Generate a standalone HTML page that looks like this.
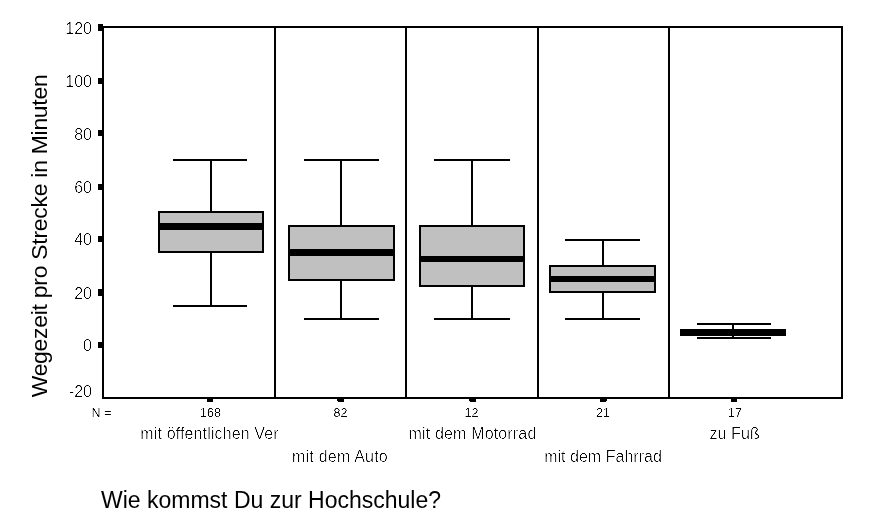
<!DOCTYPE html>
<html lang="de">
<head>
<meta charset="utf-8">
<title>Boxplot</title>
<style>
html,body{margin:0;padding:0;background:#fff;}
body{width:869px;height:522px;overflow:hidden;}
svg{display:block;font-family:"Liberation Sans",sans-serif;fill:#000;}
.ln{stroke:#000;stroke-width:2;fill:none;shape-rendering:crispEdges;}
.bx{fill:#c0c0c0;stroke:#000;stroke-width:2;shape-rendering:crispEdges;}
.bk{fill:#000;shape-rendering:crispEdges;}
.t16{font-size:16px;}
.t11{font-size:12.5px;}
.t23{font-size:23px;}
.thin{stroke:#fff;stroke-width:0.24px;paint-order:fill stroke;}
.thin2{stroke:#fff;stroke-width:0.08px;paint-order:fill stroke;}
</style>
</head>
<body>
<svg width="869" height="522" viewBox="0 0 869 522">
<rect x="0" y="0" width="869" height="522" fill="#fff"/>
<defs>
<filter id="al" x="-5%" y="-20%" width="110%" height="140%" color-interpolation-filters="sRGB">
<feFlood flood-color="#fff" result="w"/>
<feComposite in="SourceGraphic" in2="w" operator="over" result="o"/>
<feColorMatrix in="o" type="matrix" values="0 0 0 0 0  0 0 0 0 0  0 0 0 0 0  -1 0 0 0 1"/>
<feComponentTransfer><feFuncA type="table" tableValues="0 0 0.12 0.88 1 1"/></feComponentTransfer>
</filter>
</defs>

<!-- frame -->
<rect class="ln" x="103" y="27" width="739" height="371"/>
<!-- separators -->
<rect class="bk" x="274" y="26" width="2" height="373"/>
<rect class="bk" x="405" y="26" width="2" height="373"/>
<rect class="bk" x="537" y="26" width="2" height="373"/>
<rect class="bk" x="668" y="26" width="2" height="373"/>

<!-- y ticks -->
<rect class="bk" x="98" y="24" width="5" height="7"/>
<rect class="bk" x="98" y="78" width="5" height="6"/>
<rect class="bk" x="98" y="130" width="5" height="6"/>
<rect class="bk" x="98" y="184" width="5" height="6"/>
<rect class="bk" x="98" y="236" width="5" height="6"/>
<rect class="bk" x="98" y="289" width="5" height="7"/>
<rect class="bk" x="98" y="342" width="5" height="6"/>

<!-- x ticks -->
<rect class="bk" x="207" y="398" width="6" height="4"/>
<rect class="bk" x="337" y="398" width="7" height="3"/><rect class="bk" x="338" y="401" width="6" height="1"/>
<rect class="bk" x="469" y="398" width="7" height="3"/><rect class="bk" x="470" y="401" width="6" height="1"/>
<rect class="bk" x="600" y="398" width="7" height="3"/><rect class="bk" x="600" y="401" width="6" height="1"/>
<rect class="bk" x="731" y="398" width="6" height="4"/>

<!-- box 1 -->
<rect class="bk" x="210" y="159" width="2" height="148"/>
<rect class="bk" x="173" y="159" width="74" height="2"/>
<rect class="bk" x="173" y="305" width="74" height="2"/>
<rect class="bx" x="159" y="212" width="104" height="40"/>
<rect class="bk" x="158" y="223" width="106" height="7"/>

<!-- box 2 -->
<rect class="bk" x="340" y="159" width="2" height="161"/>
<rect class="bk" x="304" y="159" width="75" height="2"/>
<rect class="bk" x="304" y="318" width="75" height="2"/>
<rect class="bx" x="289" y="226" width="105" height="54"/>
<rect class="bk" x="288" y="249" width="107" height="7"/>

<!-- box 3 -->
<rect class="bk" x="471" y="159" width="2" height="161"/>
<rect class="bk" x="434" y="159" width="76" height="2"/>
<rect class="bk" x="434" y="318" width="76" height="2"/>
<rect class="bx" x="420" y="226" width="104" height="60"/>
<rect class="bk" x="419" y="256" width="106" height="6"/>

<!-- box 4 -->
<rect class="bk" x="602" y="239" width="2" height="81"/>
<rect class="bk" x="565" y="239" width="75" height="2"/>
<rect class="bk" x="565" y="318" width="75" height="2"/>
<rect class="bx" x="550" y="266" width="105" height="26"/>
<rect class="bk" x="549" y="276" width="107" height="6"/>

<!-- box 5 -->
<rect class="bk" x="732" y="323" width="2" height="16"/>
<rect class="bk" x="697" y="323" width="74" height="2"/>
<rect class="bk" x="697" y="337" width="74" height="2"/>
<rect class="bk" x="680" y="329" width="106" height="7"/>

<!-- y tick labels -->
<g class="t16 thin" text-anchor="end" filter="url(#al)">
<text x="92" y="34">120</text>
<text x="92" y="87">100</text>
<text x="92" y="140">80</text>
<text x="92" y="193">60</text>
<text x="92" y="245">40</text>
<text x="92" y="299">20</text>
<text x="92" y="351">0</text>
<text x="92" y="397">-20</text>
</g>

<!-- N row -->
<g class="t11 thin2" text-anchor="middle" filter="url(#al)">
<text x="101.5" y="417">N =</text>
<text x="210.5" y="417">168</text>
<text x="340.5" y="417">82</text>
<text x="471.5" y="417">12</text>
<text x="603" y="417">21</text>
<text x="735" y="417">17</text>
</g>

<!-- category labels -->
<g class="t16 thin" text-anchor="middle" filter="url(#al)">
<text x="209.5" y="439" textLength="138.3">mit öffentlichen Ver</text>
<text x="339.9" y="462" textLength="95.7">mit dem Auto</text>
<text x="472.4" y="439" textLength="127.8">mit dem Motorrad</text>
<text x="603" y="462" textLength="117.7">mit dem Fahrrad</text>
<text x="734.6" y="439" textLength="50.4">zu Fuß</text>
</g>

<!-- axis titles -->
<text class="t23" x="101" y="507.7">Wie kommst Du zur Hochschule?</text>
<text class="t23" style="font-size:22.9px" transform="translate(47.4,397.3) rotate(-90)" textLength="323" lengthAdjust="spacing">Wegezeit pro Strecke in Minuten</text>
</svg>
</body>
</html>
